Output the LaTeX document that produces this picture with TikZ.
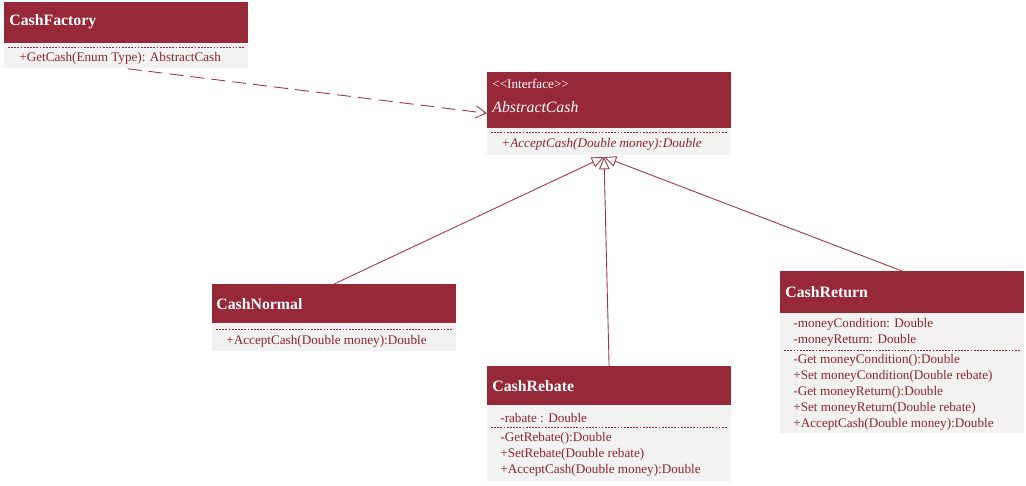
\documentclass[tikz,border=0pt]{standalone}
\usepackage{fontspec}
\setmainfont{Liberation Serif}
\usetikzlibrary{arrows.meta}
\definecolor{hdred}{HTML}{962838}
\definecolor{bodygray}{HTML}{F2F2F2}
\definecolor{txtred}{HTML}{8E2232}
\definecolor{linered}{HTML}{9B3646}
\tikzset{
  head/.style={fill=hdred, anchor=north west, inner sep=0pt, minimum width=4.87cm},
  body/.style={fill=bodygray, anchor=north west, inner sep=0pt, minimum width=4.87cm},
  title/.style={text=white, anchor=west, inner sep=0pt, font=\fontsize{9}{10}\selectfont\bfseries},
  member/.style={text=txtred, anchor=west, inner sep=0pt, font=\fontsize{7.5}{8}\selectfont},
  sep/.style={draw=txtred, line width=0.5pt, dash pattern=on 1pt off 0.8pt},
  inherit/.style={draw=linered, line width=0.5pt, -{Triangle[open, length=7pt, width=6pt]}}
}
\begin{document}
\begin{tikzpicture}[x=0.02cm,y=-0.02cm]
  \useasboundingbox[fill=white] (0,0) rectangle (1026,485);

  % CashFactory
  \node[head, minimum height=0.82cm] (fachead) at (4,2) {};
  \node[body, minimum height=0.5cm] (facbody) at (4,43) {};
  \draw[sep] (8,47) -- (244,47);
  \node[title] (factitle) at (9,22) {CashFactory};
  \node[member] (facm1) at (19,58) {+GetCash(Enum Type): AbstractCash};

  % AbstractCash
  \node[head, minimum height=1.12cm] (abshead) at (487,72) {};
  \node[body, minimum height=0.54cm] (absbody) at (487,128) {};
  \draw[sep] (491,132) -- (727,132);
  \node[title, font=\fontsize{7.5}{8}\selectfont] (absster) at (492,84) {{<}{<}Interface{>}{>}};
  \node[title, font=\fontsize{9}{10}\selectfont\itshape] (abstitle) at (492,107) {AbstractCash};
  \node[member, font=\fontsize{7.5}{8}\selectfont\itshape] (absm1) at (501,144) {+AcceptCash(Double money):Double};
  \coordinate (apex) at (604,157);

  % CashNormal
  \node[head, minimum height=0.78cm] (norhead) at (212,284) {};
  \node[body, minimum height=0.56cm] (norbody) at (212,323) {};
  \draw[sep] (216,329) -- (452,329);
  \node[title] (nortitle) at (216,304) {CashNormal};
  \node[member] (norm1) at (226,341) {+AcceptCash(Double money):Double};

  % CashRebate
  \node[head, minimum height=0.78cm] (rebhead) at (487,366) {};
  \node[body, minimum height=1.52cm] (rebbody) at (487,405) {};
  \draw[sep] (491,427) -- (727,427);
  \node[title] (rebtitle) at (492,386) {CashRebate};
  \node[member] (reba1) at (500,418) {-rabate : Double};
  \node[member] (rebm1) at (500,438) {-GetRebate():Double};
  \node[member] (rebm2) at (500,454) {+SetRebate(Double rebate)};
  \node[member] (rebm3) at (500,470) {+AcceptCash(Double money):Double};

  % CashReturn
  \node[head, minimum height=0.84cm] (rethead) at (780,271) {};
  \node[body, minimum height=2.4cm] (retbody) at (780,313) {};
  \draw[sep] (784,350) -- (1020,350);
  \node[title] (rettitle) at (785,292) {CashReturn};
  \node[member] (reta1) at (793,324) {-moneyCondition: Double};
  \node[member] (reta2) at (793,340) {-moneyReturn: Double};
  \node[member] (retm1) at (793,360) {-Get moneyCondition():Double};
  \node[member] (retm2) at (793,376) {+Set moneyCondition(Double rebate)};
  \node[member] (retm3) at (793,392) {-Get moneyReturn():Double};
  \node[member] (retm4) at (793,408) {+Set moneyReturn(Double rebate)};
  \node[member] (retm5) at (793,424) {+AcceptCash(Double money):Double};

  % dependency and generalisations
  \draw[linered, line width=0.5pt, dash pattern=on 8pt off 4pt, -{Straight Barb[length=6pt, width=7pt]}]
    ([xshift=0.03cm]facbody.south) -- ([yshift=-0.26cm]abshead.west);
  \draw[inherit] (norhead.north) -- (apex);
  \draw[inherit] (rebhead.north) -- (apex);
  \draw[inherit] (rethead.north) -- (apex);
\end{tikzpicture}
\end{document}
